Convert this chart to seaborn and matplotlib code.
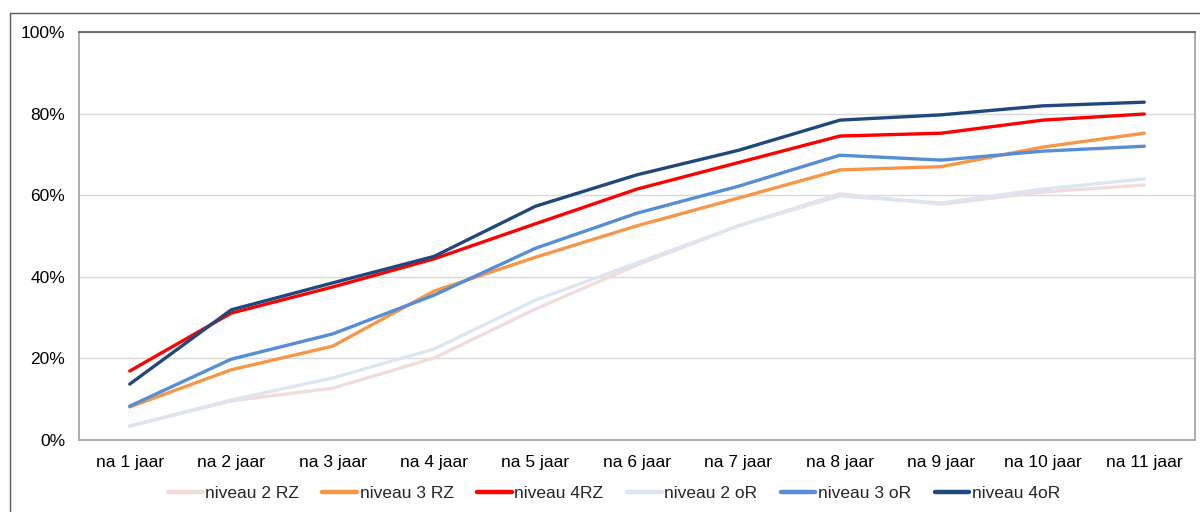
import pandas as pd
import seaborn as sns
import matplotlib.pyplot as plt
from matplotlib.lines import Line2D

# ------------------------------------------------------------------------------
# Data (percentages)
# ------------------------------------------------------------------------------
jaren = ["na 1 jaar", "na 2 jaar", "na 3 jaar", "na 4 jaar", "na 5 jaar", "na 6 jaar",
         "na 7 jaar", "na 8 jaar", "na 9 jaar", "na 10 jaar", "na 11 jaar"]

niveau_2_rz = [3.4, 9.6, 12.7, 20.1, 32.1, 42.9, 52.5, 60.3, 57.8, 60.8, 62.5]
niveau_3_rz = [8.1, 17.2, 23.0, 36.5, 44.8, 52.5, 59.3, 66.2, 67.0, 71.8, 75.2]
niveau_4_rz = [16.9, 31.1, 37.5, 44.4, 53.0, 61.5, 68.0, 74.5, 75.2, 78.4, 79.9]
niveau_2_or = [3.4, 9.8, 15.2, 22.3, 34.3, 43.4, 52.5, 59.8, 58.1, 61.5, 64.0]
niveau_3_or = [8.3, 19.8, 26.0, 35.5, 47.0, 55.6, 62.2, 69.8, 68.6, 70.8, 72.0]
niveau_4_or = [13.7, 31.9, 38.5, 45.0, 57.3, 65.0, 71.0, 78.4, 79.7, 81.9, 82.8]

series_names = ["niveau 2 RZ", "niveau 3 RZ", "niveau 4RZ",
                "niveau 2 oR", "niveau 3 oR", "niveau 4oR"]
series_values = [niveau_2_rz, niveau_3_rz, niveau_4_rz,
                 niveau_2_or, niveau_3_or, niveau_4_or]
colors = ["#F2DCDB", "#F79646", "#FF0000", "#DCE6F2", "#558ED5", "#1F497D"]

rows = []
for name, vals in zip(series_names, series_values):
    for jaar, v in zip(jaren, vals):
        rows.append({"Jaar": jaar, "Pct": v, "Niveau": name})
df = pd.DataFrame(rows)

# ------------------------------------------------------------------------------
# Plot
# ------------------------------------------------------------------------------
sns.set_theme(style="white")
plt.rcParams['font.family'] = ['Liberation Sans', 'DejaVu Sans']
fs = 12.5

fig = plt.figure(figsize=(12, 5.12), dpi=100)
ax = fig.add_axes([79 / 1200, 1 - 440 / 512, (1195 - 79) / 1200, (440 - 32) / 512])

sns.lineplot(data=df, x="Jaar", y="Pct", hue="Niveau", hue_order=series_names,
             palette=colors, linewidth=2.4, sort=False, legend=False, ax=ax)

ax.set_xlim(-0.5, len(jaren) - 0.5)
ax.set_ylim(0, 100)
ax.set_yticks([0, 20, 40, 60, 80, 100])
ax.set_yticklabels([f"{t}%" for t in [0, 20, 40, 60, 80, 100]])
ax.set_xticks(range(len(jaren)))
ax.set_xticklabels(jaren)
ax.tick_params(axis='both', labelsize=fs, colors='black', length=0)
ax.tick_params(axis='y', pad=10)
ax.tick_params(axis='x', pad=11)
ax.set_xlabel("")
ax.set_ylabel("")
ax.yaxis.grid(True, color="#D9D9D9", linewidth=1)
ax.set_axisbelow(True)
for side in ["left", "right", "bottom"]:
    ax.spines[side].set_color("#A6A6A6")
    ax.spines[side].set_linewidth(1.3)
ax.spines["top"].set_color("#595959")
ax.spines["top"].set_linewidth(1.2)

# Legend underneath
handles = [Line2D([0], [0], color=c, linewidth=3.2) for c in colors]
fig.legend(handles, series_names, loc="center", bbox_to_anchor=(614 / 1200, 1 - 493 / 512),
           ncol=6, frameon=False, fontsize=fs, handlelength=2.0, handletextpad=0.15,
           columnspacing=1.35)

# Outer frame (top and left edge visible in the reference)
fig.add_artist(Line2D([10 / 1200, 10 / 1200], [0, 1 - 13 / 512], color="#595959", linewidth=1))
fig.add_artist(Line2D([10 / 1200, 1], [1 - 13 / 512, 1 - 13 / 512], color="#595959", linewidth=1))

plt.savefig("out.png", dpi=100)
plt.close()
